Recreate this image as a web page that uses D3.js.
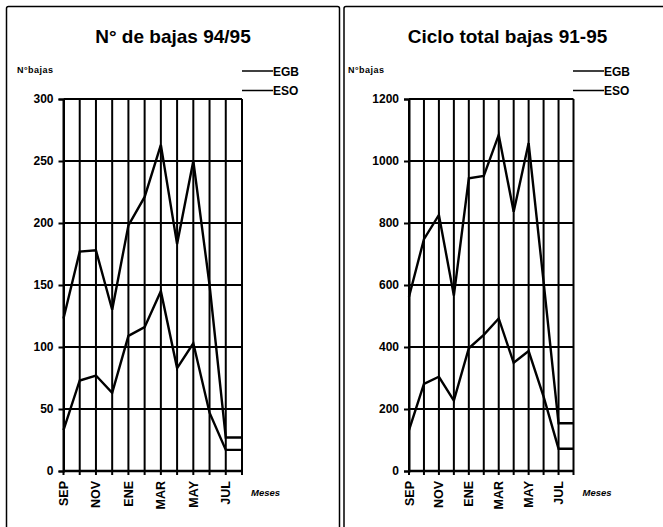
<!DOCTYPE html>
<html>
<head>
<meta charset="utf-8">
<script src="https://cdn.jsdelivr.net/npm/d3@7"></script>
<style>
  body { margin: 0; background: #fff; }
  svg { display: block; }
  text { font-family: "Liberation Sans", Arial, sans-serif; font-weight: bold; fill: #000; }
</style>
</head>
<body>
<div id="graph"></div>
<script>
// months of the school year, Sept to Aug
const months = ["SEP", "OCT", "NOV", "DIC", "ENE", "FEB", "MAR", "ABR", "MAY", "JUN", "JUL", "AGO"];
const shown_months = ["SEP", "NOV", "ENE", "MAR", "MAY", "JUL"];

// panel 1: 94/95
const egb_9495 = [123, 177, 178, 130, 198, 221, 263, 183, 250, 150, 27, 27];
const eso_9495 = [33, 73, 77, 63, 109, 116, 145, 83, 103, 47, 17, 17];
const ticks_9495 = [0, 50, 100, 150, 200, 250, 300];

// panel 2: cycle 91-95
const egb_9195 = [562, 748, 826, 566, 944, 952, 1084, 836, 1058, 610, 154, 154];
const eso_9195 = [132, 281, 304, 227, 396, 439, 492, 349, 387, 240, 72, 72];
const ticks_9195 = [0, 200, 400, 600, 800, 1000, 1200];

const legend_names = ["EGB", "ESO"];

const width = 663, height = 527;

const svg = d3.select('#graph').append('svg')
  .attr('width', width)
  .attr('height', height);

function draw_panel(p) {
  const g = svg.append('g');

  // frame of the panel (bottom runs off the page)
  g.append('rect')
    .attr('x', p.box[0]).attr('y', p.box[1])
    .attr('width', p.box[2]).attr('height', 560)
    .attr('rx', 2)
    .attr('fill', 'none').attr('stroke', '#000').attr('stroke-width', 1.5);

  g.append('text')
    .attr('x', p.title_x).attr('y', 43)
    .attr('text-anchor', 'middle')
    .style('font-size', '19px')
    .text(p.title);

  g.append('text')
    .attr('x', p.ylabel_x).attr('y', 73)
    .style('font-size', '9px')
    .attr('textLength', 36)
    .text('N°bajas');

  const x = d3.scalePoint().domain(months).range([p.x0, p.x1]);
  const y = d3.scaleLinear().domain([0, p.max]).range([471, 99]);

  // horizontal grid
  g.selectAll('.hgrid').data(p.ticks.slice(1)).join('line')
    .attr('x1', p.x0).attr('x2', p.x1)
    .attr('y1', d => y(d)).attr('y2', d => y(d))
    .attr('stroke', '#000').attr('stroke-width', 2);

  // vertical grid, one per month
  g.selectAll('.vgrid').data(months).join('line')
    .attr('x1', d => x(d)).attr('x2', d => x(d))
    .attr('y1', y(p.max)).attr('y2', y(0) + 4)
    .attr('stroke', '#000').attr('stroke-width', 2);

  // y axis
  const yAxis = d3.axisLeft(y).tickValues(p.ticks).tickFormat(d3.format('d')).tickSize(5).tickPadding(5);
  const ya = g.append('g').attr('transform', `translate(${p.x0},0)`).call(yAxis);
  ya.select('.domain').attr('stroke-width', 2);
  ya.selectAll('.tick line').attr('stroke-width', 2);
  ya.selectAll('text').style('font-size', '12px').style('font-family', '"Liberation Sans", Arial, sans-serif').style('font-weight', 'bold');

  // x axis line
  g.append('line')
    .attr('x1', p.x0).attr('x2', p.x1)
    .attr('y1', y(0)).attr('y2', y(0))
    .attr('stroke', '#000').attr('stroke-width', 2.5);

  // month labels, rotated
  g.selectAll('.mlabel').data(shown_months).join('text')
    .attr('transform', d => `translate(${x(d) + 4.5},481) rotate(-90)`)
    .attr('text-anchor', 'end')
    .style('font-size', '12.5px')
    .text(d => d);

  g.append('text')
    .attr('x', p.x1 + 9).attr('y', 496)
    .style('font-size', '9.5px')
    .style('font-style', 'italic')
    .text('Meses');

  const line = d3.line().x((d, i) => x(months[i])).y(d => y(d));
  [p.egb, p.eso].forEach(s => {
    g.append('path')
      .attr('d', line(s))
      .attr('fill', 'none')
      .attr('stroke', '#000')
      .attr('stroke-width', 2.4)
      .attr('stroke-linejoin', 'miter');
  });

  // legend
  legend_names.forEach((name, i) => {
    const ly = 71 + i * 19.5;
    g.append('line')
      .attr('x1', p.leg_x).attr('x2', p.leg_x + 31)
      .attr('y1', ly).attr('y2', ly)
      .attr('stroke', '#000').attr('stroke-width', 1.5);
    g.append('text')
      .attr('x', p.leg_x + 31).attr('y', ly + 4.5)
      .style('font-size', '12px')
      .text(name);
  });
}

draw_panel({
  box: [6.5, 6.5, 333], title: 'N° de bajas 94/95', title_x: 173,
  ylabel_x: 17, x0: 63.5, x1: 242, max: 300, ticks: ticks_9495,
  egb: egb_9495, eso: eso_9495, leg_x: 242
});

draw_panel({
  box: [344, 6.5, 340], title: 'Ciclo total bajas 91-95', title_x: 507.5,
  ylabel_x: 348, x0: 409, x1: 573.5, max: 1200, ticks: ticks_9195,
  egb: egb_9195, eso: eso_9195, leg_x: 573
});
</script>
</body>
</html>
